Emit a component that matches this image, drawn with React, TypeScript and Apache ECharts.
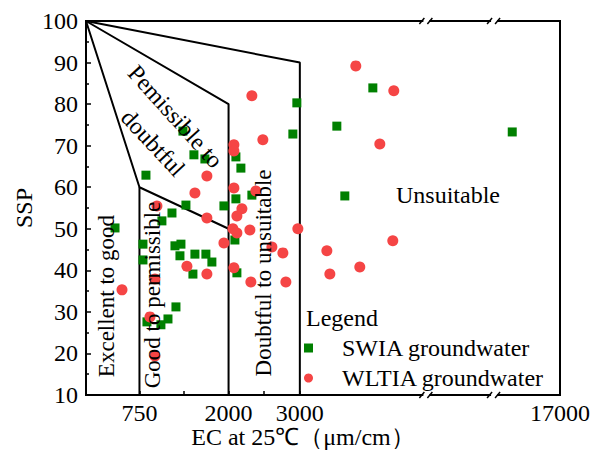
import React, { useEffect, useRef } from 'react';
import * as echarts from 'echarts';

// ---- data (EC in µS/cm, SSP in %) ----
const swiaEC = [841, 1360, 1514, 1668, 2103, 2173, 2958, 2902, 3519, 4024, 3631, 16330, 1402, 1206, 1065, 1935, 2103, 2327, 407, 799, 799, 1248, 1332, 1318, 1528, 1682, 1766, 1500, 2089, 2117, 1262, 1150, 1051, 855];
const swiaSSP = [62.9, 73.5, 67.8, 66.8, 67.3, 64.6, 80.3, 72.8, 74.7, 83.9, 57.9, 73.3, 55.7, 53.8, 51.9, 55.5, 57.2, 58.1, 50.2, 46.3, 42.5, 45.9, 46.3, 43.5, 43.9, 43.9, 42.0, 39.1, 47.3, 39.4, 31.2, 28.3, 26.9, 27.6];
const wltiaEC = [505, 897, 967, 967, 995, 1416, 1528, 1696, 1696, 1696, 1935, 2075, 2075, 2075, 2187, 2117, 2061, 2117, 2299, 2075, 2313, 2327, 2481, 2383, 2608, 2762, 2804, 2972, 3785, 4318, 4122, 3379, 4304, 3421, 3841];
const wltiaSSP = [35.3, 28.8, 19.4, 37.9, 55.5, 41.0, 58.6, 62.7, 52.6, 39.1, 46.6, 70.2, 68.7, 59.8, 54.8, 53.1, 50.0, 49.0, 49.7, 40.6, 37.2, 82.0, 71.4, 59.1, 45.6, 44.2, 37.2, 50.0, 89.2, 83.2, 70.4, 44.7, 47.1, 39.1, 40.8];

const seriesNames = ['SWIA groundwater', 'WLTIA groundwater'];
const xLabelValues = [750, 2000, 3000, 17000];
const xTickValues = [750, 1375, 2000, 2500, 3000];
const xBreaks = [
  { start: 4750, end: 9000 },
  { start: 9900, end: 16100 },
];
// Wilcox class boundaries [EC, SSP]
const boundaryLines = [
  [[0, 100], [750, 60], [2000, 50]],
  [[750, 60], [750, 10]],
  [[0, 100], [2000, 80], [2000, 10]],
  [[0, 100], [3000, 90], [3000, 10]],
];

const FONT = '"Liberation Serif", "Times New Roman", serif';
const GREEN = '#008000';
const RED = '#f54545';

export default function App() {
  const ref = useRef<HTMLDivElement>(null);
  useEffect(() => {
    if (!ref.current) return;
    const chart = echarts.init(ref.current, undefined, { renderer: 'svg' });

    const textEl = (text: string, x: number, y: number, rot: number, size: number, align = 'center') => ({
      type: 'text',
      x,
      y,
      rotation: (rot * Math.PI) / 180,
      z: 100,
      style: {
        text,
        fill: '#000',
        font: `${size}px ${FONT}`,
        align,
        verticalAlign: 'middle',
      },
    });

    const baseGraphic: any[] = [
      textEl('Pemissible to', 175.5, 116.5, -48, 24),
      textEl('doubtful', 153, 143, -47, 24),
      textEl('Excellent to good', 106, 296, 90, 23),
      textEl('Good to permissible', 152, 295, 90, 23),
      textEl('Doubtful to unsuitable', 263, 273, 90, 23),
      textEl('Unsuitable', 396, 195, 0, 24, 'left'),
      textEl('Legend', 306, 318, 0, 24, 'left'),
      textEl('SSP', 24, 208, 90, 24),
      textEl('EC at 25℃（μm/cm）', 303, 437, 0, 24),
    ];

    const option: any = {
      animation: false,
      backgroundColor: '#fff',
      grid: { left: 86, right: 35, top: 21, bottom: 59, show: true, borderColor: '#000', borderWidth: 2, outerBoundsMode: 'none' },
      xAxis: {
        type: 'value',
        min: 0,
        max: 17000,
        breaks: xBreaks.map((b) => ({ start: b.start, end: b.end, gap: '0.75%' })),
        breakArea: { show: false },
        axisLine: { onZero: false, lineStyle: { color: '#000', width: 2 } },
        axisTick: { show: true, inside: true, length: 4, lineStyle: { color: '#000', width: 1.5 }, customValues: xTickValues },
        axisLabel: {
          customValues: xLabelValues,
          formatter: (v: number) => String(v),
          margin: 6,
          color: '#000',
          fontFamily: FONT,
          fontSize: 24,
        },
        splitLine: { show: false },
      },
      yAxis: {
        type: 'value',
        min: 10,
        max: 100,
        interval: 10,
        axisLine: { show: true, lineStyle: { color: '#000', width: 2 } },
        axisTick: { show: true, inside: true, length: 5, lineStyle: { color: '#000', width: 1.5 } },
        minorTick: { show: true, splitNumber: 2, length: 3, lineStyle: { color: '#000', width: 1.5 } },
        axisLabel: { margin: 8, color: '#000', fontFamily: FONT, fontSize: 24 },
        splitLine: { show: false },
      },
      legend: {
        orient: 'vertical',
        left: 304,
        top: 336,
        itemWidth: 9,
        itemHeight: 9,
        itemGap: 6,
        padding: 0,
        textStyle: { color: '#000', fontFamily: FONT, fontSize: 24, padding: [0, 0, 0, 24] },
        data: [
          { name: seriesNames[0], icon: 'rect' },
          { name: seriesNames[1], icon: 'circle' },
        ],
      },
      series: [
        ...boundaryLines.map((pts) => ({
          type: 'line',
          data: pts,
          symbol: 'none',
          silent: true,
          z: 1,
          lineStyle: { color: '#000', width: 2 },
        })),
        {
          name: seriesNames[0],
          type: 'scatter',
          symbol: 'rect',
          symbolSize: 9,
          z: 3,
          itemStyle: { color: GREEN, opacity: 1 },
          data: swiaEC.map((v, i) => [v, swiaSSP[i]]),
        },
        {
          name: seriesNames[1],
          type: 'scatter',
          symbol: 'circle',
          symbolSize: 11,
          z: 4,
          itemStyle: { color: RED, opacity: 1 },
          data: wltiaEC.map((v, i) => [v, wltiaSSP[i]]),
        },
      ],
      graphic: baseGraphic,
    };
    chart.setOption(option);

    // axis-break marks "//" on top and bottom frame
    try {
      const yTop = chart.convertToPixel({ yAxisIndex: 0 }, 100) as number;
      const yBot = chart.convertToPixel({ yAxisIndex: 0 }, 10) as number;
      const marks: any[] = [];
      xBreaks.forEach((b) => {
        const p1 = chart.convertToPixel({ xAxisIndex: 0 }, b.start) as number;
        const p2 = chart.convertToPixel({ xAxisIndex: 0 }, b.end) as number;
        const bx = (p1 + p2) / 2;
        [yTop, yBot].forEach((y) => {
          marks.push({ type: 'rect', z: 101, shape: { x: bx - 3, y: y - 4, width: 6, height: 8 }, style: { fill: '#fff' } });
          marks.push({ type: 'line', z: 102, shape: { x1: bx - 7, y1: y + 3, x2: bx - 2, y2: y - 3 }, style: { stroke: '#000', lineWidth: 1.5 } });
          marks.push({ type: 'line', z: 102, shape: { x1: bx + 1, y1: y + 3, x2: bx + 6, y2: y - 3 }, style: { stroke: '#000', lineWidth: 1.5 } });
        });
      });
      chart.setOption({ graphic: [...baseGraphic, ...marks] });
    } catch (e) {
      // ignore
    }

    return () => chart.dispose();
  }, []);
  return <div ref={ref} style={{ position: 'absolute', left: 0, top: 0, width: 595, height: 454, background: '#fff' }} />;
}
